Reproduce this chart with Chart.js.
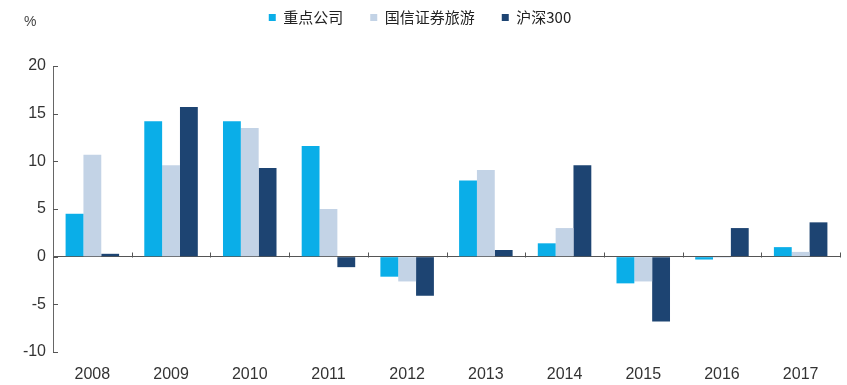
<!DOCTYPE html>
<html>
<head>
<meta charset="utf-8">
<script src="https://cdn.jsdelivr.net/npm/chart.js@4/dist/chart.umd.min.js"></script>
<style>
  html, body { margin: 0; padding: 0; background: #fff; }
  #wrap { width: 847px; height: 385px; }
</style>
</head>
<body>
<div id="wrap"><canvas id="returnChart" width="847" height="385"></canvas></div>
<script>
const years = ["2008", "2009", "2010", "2011", "2012", "2013", "2014", "2015", "2016", "2017"];
const keyCompanies = [4.5, 14.2, 14.2, 11.6, -2.1, 8.0, 1.4, -2.8, -0.3, 1.0];
const guosenTravel = [10.7, 9.6, 13.5, 5.0, -2.6, 9.1, 3.0, -2.6, -0.1, 0.5];
const hs300 = [0.3, 15.7, 9.3, -1.1, -4.1, 0.7, 9.6, -6.8, 3.0, 3.6];
const seriesNames = ["重点公司", "国信证券旅游", "沪深300"];
const seriesColors = ["#0AAEE8", "#C3D3E6", "#1D4472"];
const yTicks = [-10, -5, 0, 5, 10, 15, 20];

const labelFont = "'Liberation Sans', Arial, sans-serif";
const cjkFont = "'Noto Sans CJK SC', 'Liberation Sans', sans-serif";

// small inward tick marks on both axes plus the "%" unit label
const axisMarks = {
  id: "axisMarks",
  afterDraw(chart) {
    const ctx = chart.ctx;
    const x = chart.scales.x;
    const y = chart.scales.y;
    const area = chart.chartArea;
    ctx.save();
    ctx.strokeStyle = "#555";
    ctx.lineWidth = 1;
    // y ticks pointing right
    yTicks.forEach(v => {
      const py = Math.round(y.getPixelForValue(v)) + 0.5;
      ctx.beginPath();
      ctx.moveTo(area.left, py);
      ctx.lineTo(area.left + 5, py);
      ctx.stroke();
    });
    // category boundary ticks on the zero line
    const zero = Math.round(y.getPixelForValue(0)) + 0.5;
    const step = x.getPixelForValue(1) - x.getPixelForValue(0);
    for (let i = 0; i < years.length; i++) {
      const px = Math.round(x.getPixelForValue(i) + step / 2) + 0.5;
      ctx.beginPath();
      ctx.moveTo(px, zero);
      ctx.lineTo(px, zero - 5);
      ctx.stroke();
    }
    ctx.fillStyle = "#444";
    ctx.font = "14px " + labelFont;
    ctx.textAlign = "left";
    ctx.textBaseline = "middle";
    ctx.fillText("%", 24, 22);
    ctx.restore();
  }
};

const datasets = [keyCompanies, guosenTravel, hs300].map((data, i) => ({
  label: seriesNames[i],
  data: data,
  backgroundColor: seriesColors[i],
  borderWidth: 0,
  categoryPercentage: 0.68,
  barPercentage: 1.0
}));

new Chart(document.getElementById("returnChart").getContext("2d"), {
  type: "bar",
  data: { labels: years, datasets: datasets },
  options: {
    responsive: false,
    animation: false,
    layout: { padding: { left: 0, right: 7, top: -17, bottom: 0 } },
    plugins: {
      tooltip: { enabled: false },
      legend: {
        position: "top",
        align: "center",
        labels: {
          boxWidth: 7,
          boxHeight: 7,
          padding: 27,
          color: "#222",
          font: { family: cjkFont, size: 15 }
        }
      }
    },
    scales: {
      x: {
        grid: { display: false, drawTicks: false },
        border: { display: false },
        ticks: {
          color: "#333",
          padding: 13,
          maxRotation: 0,
          font: { family: labelFont, size: 16 }
        },
        afterFit(scale) { scale.height = 33; }
      },
      y: {
        min: -10,
        max: 20,
        afterBuildTicks(scale) { scale.ticks = yTicks.map(v => ({ value: v })); },
        grid: {
          drawTicks: false,
          color: ctx => ctx.tick && ctx.tick.value === 0 ? "#555" : "rgba(0,0,0,0)",
          lineWidth: 1
        },
        border: { display: true, color: "#666", width: 1 },
        ticks: {
          color: "#333",
          padding: 7,
          font: { family: labelFont, size: 16 }
        },
        afterFit(scale) { scale.width = 53; }
      }
    }
  },
  plugins: [axisMarks, {
    id: "legendGap",
    beforeInit(chart) {
      const fit = chart.legend.fit;
      chart.legend.fit = function () {
        fit.bind(chart.legend)();
        this.height = 83;
      };
    }
  }]
});
</script>
</body>
</html>
